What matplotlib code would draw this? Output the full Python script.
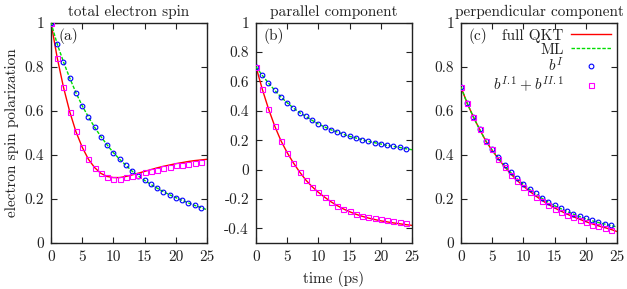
import numpy as np
import matplotlib
matplotlib.use("Agg")
import matplotlib.pyplot as plt

plt.rcParams['font.family'] = ['cmr10', 'DejaVu Serif']
plt.rcParams['mathtext.fontset'] = 'cm'
plt.rcParams['axes.unicode_minus'] = False
plt.rcParams['font.size'] = 11

# time grid (ps)
t_line = np.arange(0, 26)
t_pts = np.arange(0, 25)

# (a) total electron spin
a_qkt = [1.0, 0.84, 0.707, 0.596, 0.505, 0.435, 0.38, 0.342, 0.316, 0.302, 0.297, 0.297,
         0.302, 0.309, 0.317, 0.325, 0.333, 0.341, 0.348, 0.354, 0.36, 0.365, 0.37, 0.374,
         0.377, 0.38]
a_ml = [1.0, 0.903, 0.822, 0.749, 0.682, 0.623, 0.572, 0.525, 0.483, 0.445, 0.41, 0.38,
        0.353, 0.326, 0.304, 0.284, 0.266, 0.249, 0.233, 0.219, 0.206, 0.194, 0.182, 0.171,
        0.161, 0.151]
a_bI = [1.0, 0.903, 0.822, 0.749, 0.682, 0.623, 0.572, 0.525, 0.483, 0.445, 0.41, 0.38,
        0.353, 0.325, 0.304, 0.284, 0.266, 0.248, 0.232, 0.218, 0.206, 0.194, 0.182, 0.171,
        0.16]
a_bII = [1.0, 0.841, 0.707, 0.596, 0.508, 0.437, 0.38, 0.342, 0.316, 0.30, 0.292, 0.292,
         0.298, 0.305, 0.309, 0.321, 0.327, 0.333, 0.34, 0.347, 0.352, 0.355, 0.36, 0.363,
         0.366]

# (b) parallel component
b_qkt = [0.7, 0.548, 0.414, 0.296, 0.196, 0.115, 0.045, -0.017, -0.072, -0.117, -0.155,
         -0.188, -0.219, -0.245, -0.268, -0.287, -0.304, -0.318, -0.33, -0.34, -0.349,
         -0.356, -0.363, -0.369, -0.375, -0.38]
b_ml = [0.7, 0.642, 0.589, 0.540, 0.494, 0.455, 0.419, 0.387, 0.362, 0.335, 0.310, 0.290,
        0.271, 0.256, 0.240, 0.226, 0.215, 0.203, 0.192, 0.183, 0.174, 0.165, 0.158, 0.151,
        0.142, 0.135]
b_bI = [0.7, 0.642, 0.589, 0.540, 0.494, 0.455, 0.419, 0.387, 0.362, 0.335, 0.310, 0.290,
        0.271, 0.256, 0.240, 0.226, 0.215, 0.203, 0.192, 0.183, 0.174, 0.165, 0.158, 0.151,
        0.140]
b_bII = [0.7, 0.548, 0.414, 0.296, 0.197, 0.115, 0.043, -0.019, -0.073, -0.117, -0.155,
         -0.187, -0.219, -0.246, -0.269, -0.284, -0.303, -0.314, -0.323, -0.332, -0.339,
         -0.345, -0.350, -0.355, -0.362]

# (c) perpendicular component
c_qkt = [0.707, 0.634, 0.571, 0.515, 0.462, 0.42, 0.382, 0.346, 0.313, 0.284, 0.258, 0.235,
         0.213, 0.193, 0.175, 0.159, 0.145, 0.131, 0.119, 0.108, 0.097, 0.087, 0.078, 0.07,
         0.062, 0.052]
c_ml = [0.707, 0.634, 0.571, 0.515, 0.462, 0.422, 0.386, 0.351, 0.319, 0.291, 0.266, 0.243,
        0.223, 0.202, 0.185, 0.169, 0.156, 0.143, 0.131, 0.12, 0.11, 0.101, 0.093, 0.086,
        0.079, 0.073]
c_bI = [0.707, 0.634, 0.571, 0.516, 0.462, 0.425, 0.389, 0.353, 0.321, 0.294, 0.269, 0.245,
        0.226, 0.204, 0.186, 0.171, 0.159, 0.145, 0.133, 0.123, 0.112, 0.103, 0.094, 0.087,
        0.081]
c_bII = [0.707, 0.634, 0.571, 0.516, 0.462, 0.425, 0.38, 0.344, 0.31, 0.28, 0.255, 0.232,
         0.21, 0.19, 0.172, 0.155, 0.142, 0.129, 0.117, 0.105, 0.094, 0.083, 0.076, 0.068,
         0.061]

titles = ["total electron spin", "parallel component", "perpendicular component"]
panel_tags = ["(a)", "(b)", "(c)"]
x_ticks = [0, 5, 10, 15, 20, 25]
y_ticks_pos = [0, 0.2, 0.4, 0.6, 0.8, 1]
y_ticks_par = [-0.4, -0.2, 0, 0.2, 0.4, 0.6, 0.8, 1]

RED = '#ff0000'
GREEN = '#00dd00'
BLUE = '#0000ff'
MAGENTA = '#ff00ff'
INK = '#222222'


def fmt(v):
    if v == 0:
        return "0"
    if v == 1:
        return "1"
    return f"{v:.1f}"


W, H = 627, 289
fig = plt.figure(figsize=(W / 100, H / 100), dpi=100)
lefts = [51, 256, 461]
series = [(a_qkt, a_ml, a_bI, a_bII), (b_qkt, b_ml, b_bI, b_bII), (c_qkt, c_ml, c_bI, c_bII)]

for i, ax_left in enumerate(lefts):
    ax = fig.add_axes([ax_left / W, 46 / H, 156 / W, 220.3 / H])
    qkt, ml, bI, bII = series[i]
    ax.plot(t_line, qkt, color=RED, lw=1.0, label='full QKT', zorder=2)
    ax.plot(t_line, ml, color=GREEN, lw=1.0, ls=(0, (2.5, 1.2)), label='ML', zorder=3)
    ax.plot(t_pts, bI, ls='none', marker='o', ms=3.4, mfc='none', mec=BLUE, mew=0.8,
            label='$b^I$', zorder=4)
    ax.plot(t_pts, bII, ls='none', marker='s', ms=3.6, mfc='none', mec=MAGENTA, mew=0.8,
            label='$b^{I.1}+b^{II.1}$', zorder=4)

    ax.set_xlim(0, 25)
    if i == 1:
        ax.set_ylim(-0.5, 1)
        yt = y_ticks_par
    else:
        ax.set_ylim(0, 1)
        yt = y_ticks_pos
    ax.set_xticks(x_ticks)
    ax.set_xticklabels([str(v) for v in x_ticks])
    ax.set_yticks(yt)
    ax.set_yticklabels([fmt(v) for v in yt])
    ax.tick_params(direction='in', top=True, right=True, length=4, width=0.8,
                   labelsize=11, colors=INK, pad=5)
    for sp in ax.spines.values():
        sp.set_linewidth(1.0)
        sp.set_color(INK)
    ax.set_title(titles[i], fontsize=11, pad=5, color=INK)
    ax.text(0.045, 0.975, panel_tags[i], fontsize=11, transform=ax.transAxes,
            va='top', ha='left', color=INK)

    if i == 0:
        ax.set_ylabel('electron spin polarization', fontsize=11, color=INK, labelpad=4)
    if i == 1:
        ax.set_xlabel('time (ps)', fontsize=11, color=INK, labelpad=5)
    if i == 2:
        ax.legend(loc='upper right', frameon=False, markerfirst=False, fontsize=11,
                  handlelength=2.6, handletextpad=0.5, labelspacing=0.0,
                  borderaxespad=0.1, borderpad=0.3, labelcolor=INK)

fig.savefig('out.png', dpi=100)
